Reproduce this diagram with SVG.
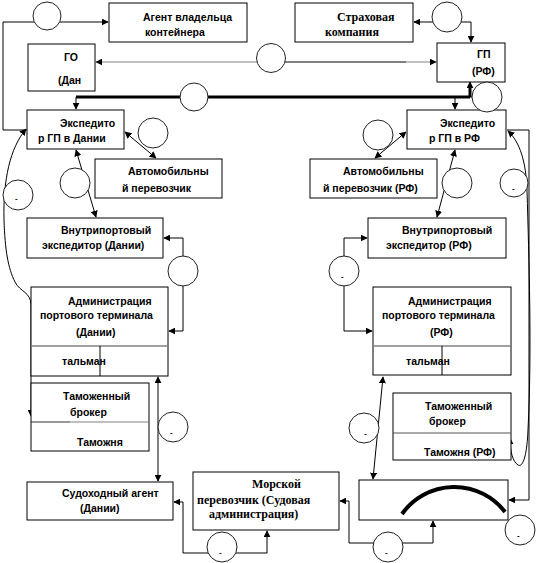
<svg xmlns="http://www.w3.org/2000/svg" width="542" height="563" viewBox="0 0 542 563">
<style>
.box{fill:#fff;stroke:#000;stroke-width:1}
.c{fill:#fff;stroke:#222;stroke-width:1}
.t{font-family:"Liberation Sans",Arial,sans-serif;font-weight:bold;font-size:10.5px;fill:#000}
.s{font-family:"Liberation Serif","Times New Roman",serif;font-weight:bold;font-size:12px;fill:#000}
.d{font-family:"Liberation Sans",Arial,sans-serif;font-weight:bold;font-size:8px;fill:#000}
.ln{fill:none;stroke:#000;stroke-width:1}
.g{fill:none;stroke:#808080;stroke-width:1}
.thick{fill:none;stroke:#000;stroke-width:3}
</style>
<defs>
<marker id="a" viewBox="0 0 10 10" refX="9" refY="5" markerWidth="7" markerHeight="7" markerUnits="userSpaceOnUse" orient="auto-start-reverse">
<path d="M0,0 L10,5 L0,10 z" fill="#000"/>
</marker>
</defs>
<rect width="542" height="563" fill="#fff"/>

<g id="connectors">
<path class="ln" d="M27,130 H3 V22 H108" marker-end="url(#a)"/>
<path class="g" d="M271,62 H96" marker-end="url(#a)"/>
<path class="ln" d="M271,62 H406" />
<path class="g" d="M406,62 H436" marker-end="url(#a)"/>
<path class="ln" d="M447,22 H414" marker-end="url(#a)"/>
<path class="ln" d="M447,22 H471 V42" marker-end="url(#a)"/>
<path class="thick" d="M76,97 H470"/>
<path class="ln" d="M76,97 V109" marker-end="url(#a)"/>
<path class="thick" d="M470,97 V86"/>
<path class="ln" d="M470,90 V82" marker-end="url(#a)"/>
<path class="ln" d="M470,97 H480"/>
<path class="ln" d="M455,97 V109" marker-end="url(#a)"/>
<path class="ln" d="M125,132 L156,158" marker-start="url(#a)" marker-end="url(#a)"/>
<path class="ln" d="M76,150 L96,217" marker-start="url(#a)" marker-end="url(#a)"/>
<path class="ln" d="M183,270 V238 H164" marker-end="url(#a)"/>
<path class="ln" d="M183,270 V331 H169" marker-end="url(#a)"/>
<path class="ln" d="M26,129 C10,148 3,180 4,220 C5,250 8,268 15,282 C20,292 31,292 31,305 V416" marker-start="url(#a)" marker-end="url(#a)"/>
<path class="ln" d="M344,271 V238 H367" marker-end="url(#a)"/>
<path class="ln" d="M344,271 V331 H372" marker-end="url(#a)"/>
<path class="ln" d="M406,132 L375,158" marker-start="url(#a)" marker-end="url(#a)"/>
<path class="ln" d="M455,150 L437,217" marker-start="url(#a)" marker-end="url(#a)"/>
<path class="ln" d="M507,130 H529 V500 H509" marker-end="url(#a)"/>
<path class="ln" d="M508,131 C520,142 526,162 527,190 C529,260 532,350 528,430 C527,455 523,468 518,465 C513,462 510,452 510,438" marker-start="url(#a)" marker-end="url(#a)"/>
<path class="ln" d="M383,377 L373,479" marker-start="url(#a)" marker-end="url(#a)"/>
<path class="ln" d="M158,377 V481" marker-start="url(#a)" marker-end="url(#a)"/>
<path class="ln" d="M174,502 H183 V553 H267 V531" marker-start="url(#a)" marker-end="url(#a)"/>
<path class="ln" d="M340,501 H349 V543 H433 V521" marker-start="url(#a)" marker-end="url(#a)"/>
</g>

<g id="agent"><rect class="box" x="109" y="3" width="138" height="39"/>
<text class="t" x="143" y="21">Агент владельца</text><text class="t" x="145" y="36">контейнера</text></g>
<g id="strah"><rect class="box" x="295" y="3" width="118" height="39"/>
<text class="s" x="337" y="21">Страховая</text><text class="s" x="325" y="36">компания</text></g>
<g id="go"><rect class="box" x="28" y="44" width="67" height="47"/>
<text class="t" x="64" y="61">ГО</text><text class="t" x="58" y="84">(Дан</text></g>
<g id="gp"><rect class="box" x="437" y="43" width="68" height="39"/>
<text class="t" x="477" y="58">ГП</text><text class="t" x="472" y="75">(РФ)</text></g>

<g id="exp-dk"><rect class="box" x="27" y="110" width="97" height="39"/>
<text class="t" x="60" y="127">Экспедито</text><text class="t" x="38" y="142">р ГП в Дании</text></g>
<g id="avto-dk"><rect class="box" x="95" y="159" width="127" height="39"/>
<text class="t" x="128" y="175">Автомобильны</text><text class="t" x="122" y="192">й перевозчик</text></g>
<g id="vnutr-dk"><rect class="box" x="27" y="218" width="136" height="40"/>
<text class="t" x="61" y="234">Внутрипортовый</text><text class="t" x="42" y="249">экспедитор (Дании)</text></g>
<g id="adm-dk"><rect class="box" x="31" y="287" width="137" height="89"/>
<line x1="31" y1="346" x2="168" y2="346" stroke="#808080" stroke-width="1.5"/>
<line x1="100" y1="346" x2="100" y2="376" stroke="#000" stroke-width="1"/>
<text class="t" x="68" y="305">Администрация</text><text class="t" x="40" y="319">портового терминала</text>
<text class="t" x="76" y="336">(Дании)</text><text class="t" x="62" y="365">тальман</text></g>
<g id="tam-dk"><rect class="box" x="31" y="383" width="118" height="68"/>
<line x1="31" y1="422" x2="70" y2="422" stroke="#333" stroke-width="1.2"/>
<line x1="70" y1="422" x2="149" y2="422" stroke="#808080" stroke-width="1.2"/>
<text class="t" x="63" y="400">Таможенный</text><text class="t" x="70" y="416">брокер</text><text class="t" x="77" y="446">Таможня</text></g>
<g id="sudo"><rect class="box" x="27" y="482" width="146" height="38"/>
<text class="t" x="62" y="497">Судоходный агент</text><text class="t" x="80" y="512">(Дании)</text></g>
<g id="morsk"><rect class="box" x="193" y="472" width="146" height="58"/>
<text class="s" x="252" y="488">Морской</text><text class="s" x="197" y="504">перевозчик (Судовая</text><text class="s" x="209" y="518">администрация)</text></g>

<g id="exp-rf"><rect class="box" x="407" y="110" width="99" height="39"/>
<text class="t" x="440" y="127">Экспедито</text><text class="t" x="429" y="142">р ГП в РФ</text></g>
<g id="avto-rf"><rect class="box" x="310" y="159" width="127" height="39"/>
<text class="t" x="343" y="175">Автомобильны</text><text class="t" x="323" y="192">й перевозчик (РФ)</text></g>
<g id="vnutr-rf"><rect class="box" x="368" y="218" width="138" height="40"/>
<text class="t" x="402" y="234">Внутрипортовый</text><text class="t" x="386" y="249">экспедитор (РФ)</text></g>
<g id="adm-rf"><rect class="box" x="373" y="287" width="138" height="88"/>
<line x1="373" y1="346" x2="511" y2="346" stroke="#808080" stroke-width="1.5"/>
<line x1="442" y1="346" x2="442" y2="375" stroke="#000" stroke-width="1"/>
<text class="t" x="408" y="305">Администрация</text><text class="t" x="382" y="319">портового терминала</text>
<text class="t" x="430" y="336">(РФ)</text><text class="t" x="406" y="365">тальман</text></g>
<g id="tam-rf"><rect class="box" x="393" y="393" width="118" height="67"/>
<line x1="393" y1="433" x2="511" y2="433" stroke="#555" stroke-width="1.2"/>
<text class="t" x="425" y="410">Таможенный</text><text class="t" x="429" y="425">брокер</text><text class="t" x="424" y="456">Таможня (РФ)</text></g>
<g id="blank"><rect class="box" x="359" y="480" width="149" height="40"/>
<path d="M402,514 A64,64 0 0 1 505,512" fill="none" stroke="#000" stroke-width="4"/></g>

<g id="c1"><circle class="c" cx="47" cy="16" r="14"/></g>
<g id="c2"><circle class="c" cx="271" cy="58" r="14.5"/></g>
<g id="c3"><circle class="c" cx="447" cy="17" r="15"/></g>
<g id="c4"><circle class="c" cx="194" cy="97" r="14"/></g>
<g id="c5"><circle class="c" cx="487" cy="97" r="15"/></g>
<g id="c6"><circle class="c" cx="153" cy="133" r="15"/></g>
<g id="c7"><circle class="c" cx="75" cy="183" r="15"/></g>
<g id="c8"><circle class="c" cx="18" cy="195" r="15"/><text class="d" x="15" y="201">-</text></g>
<g id="c9"><circle class="c" cx="183" cy="271" r="15"/></g>
<g id="c10"><circle class="c" cx="378" cy="135" r="15"/></g>
<g id="c11"><circle class="c" cx="457" cy="183" r="15"/></g>
<g id="c12"><circle class="c" cx="514" cy="183" r="14"/><text class="d" x="512" y="191">-</text></g>
<g id="c13"><circle class="c" cx="344" cy="271" r="15"/><text class="d" x="341" y="279">-</text></g>
<g id="c14"><circle class="c" cx="173" cy="427" r="15"/><text class="d" x="170" y="435">-</text></g>
<g id="c15"><circle class="c" cx="364" cy="428" r="15"/><text class="d" x="364" y="436">-</text></g>
<g id="c16"><circle class="c" cx="222" cy="547" r="15"/><text class="d" x="219" y="555">-</text></g>
<g id="c17"><circle class="c" cx="388" cy="547" r="15"/><text class="d" x="385" y="555">-</text></g>
<g id="c18"><circle class="c" cx="520" cy="530" r="15"/><text class="d" x="517" y="538">-</text></g>
</svg>
